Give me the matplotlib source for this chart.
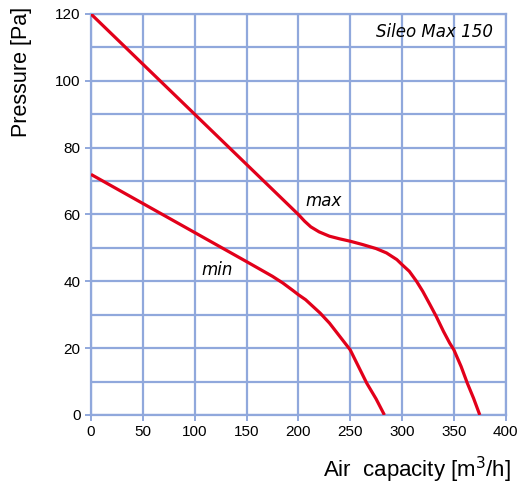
import matplotlib
matplotlib.use("Agg")
import matplotlib.pyplot as plt

# curve data
max_flow = [0, 50, 100, 150, 175, 190, 200, 206, 212, 220, 230, 240, 250, 262, 275, 285, 295, 300, 307, 314, 320, 327, 333, 340, 346, 350, 357, 363, 369, 375]
max_pres = [120, 105, 90, 75, 67.5, 63, 60, 58, 56.3, 54.8, 53.5, 52.7, 52, 51, 49.8, 48.5, 46.5, 45, 43, 40, 37, 33, 29.5, 25, 21.5, 19.5, 14.5, 9.5, 5, 0]
min_flow = [0, 50, 100, 150, 175, 185, 195, 200, 207, 214, 221, 230, 240, 250, 258, 266, 275, 283]
min_pres = [72, 63.3, 54.6, 45.9, 41.5, 39.5, 37.2, 36, 34.5, 32.5, 30.5, 27.5, 23.5, 19.5, 14.5, 9.5, 4.8, 0]

x_ticks = [0, 50, 100, 150, 200, 250, 300, 350, 400]
y_ticks = [0, 20, 40, 60, 80, 100, 120]
y_grid = list(range(0, 121, 10))

GRID = "#90a8dc"
RED = "#e2001a"

plt.rcParams["font.family"] = ["Liberation Sans", "DejaVu Sans"]

fig = plt.figure(figsize=(5.19, 4.84), dpi=100)
ax = fig.add_axes([0.1753, 0.1426, 0.7991, 0.8285])

for y in y_grid:
    ax.axhline(y, color=GRID, lw=1.6, zorder=1)
for x in x_ticks:
    ax.axvline(x, color=GRID, lw=1.6, zorder=1)

ax.plot(max_flow, max_pres, color=RED, lw=2.3, zorder=3, solid_capstyle="butt", solid_joinstyle="round")
ax.plot(min_flow, min_pres, color=RED, lw=2.3, zorder=3, solid_capstyle="butt", solid_joinstyle="round")

ax.set_xlim(0, 400)
ax.set_ylim(0, 120)
ax.set_xticks(x_ticks)
ax.set_yticks(y_ticks)
ax.tick_params(colors=GRID, labelcolor="black", labelsize=11, length=4, width=1.4)
for s in ax.spines.values():
    s.set_color(GRID)
    s.set_linewidth(1.6)

lab = dict(style="italic", family="DejaVu Sans", fontsize=12, va="center", zorder=4)
ax.text(207, 64, "max", ha="left", **lab)
ax.text(107, 43.5, "min", ha="left", **lab)
ax.text(388, 114.5, "Sileo Max 150", ha="right", **lab)

fig.text(0.042, 0.851, "Pressure [Pa]", rotation=90, fontsize=15.5, ha="center", va="center")
fig.text(0.984, 0.03, "Air  capacity [m$^3$/h]", fontsize=16, ha="right", va="center")

fig.savefig("out.png", dpi=100)
